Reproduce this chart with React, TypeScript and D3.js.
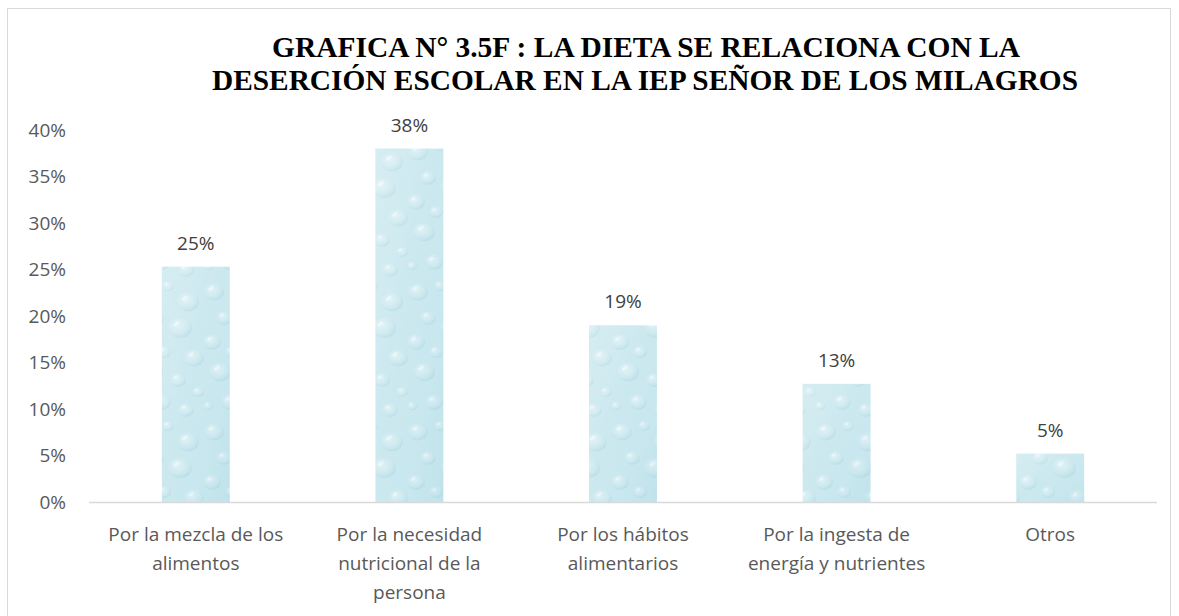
import React from "react";
import * as d3 from "d3";

const categories: string[][] = [
  ["Por la mezcla de los", "alimentos"],
  ["Por la necesidad", "nutricional de la", "persona"],
  ["Por los hábitos", "alimentarios"],
  ["Por la ingesta de", "energía y nutrientes"],
  ["Otros"],
];
const values: number[] = [0.253, 0.38, 0.19, 0.127, 0.052];
const yTicks: number[] = [0, 0.05, 0.1, 0.15, 0.2, 0.25, 0.3, 0.35, 0.4];
const titleLines: string[] = [
  "GRAFICA N° 3.5F : LA DIETA SE RELACIONA CON LA",
  "DESERCIÓN ESCOLAR EN LA IEP SEÑOR DE LOS MILAGROS",
];

const W = 1179;
const H = 616;
const FONT = "'Open Sans', Lato, sans-serif";

export default function App() {
  const x = d3
    .scaleBand<number>()
    .domain(d3.range(values.length))
    .range([89, 1157])
    .paddingInner(0.682)
    .paddingOuter(0.341);
  const y = d3.scaleLinear().domain([0, 0.4]).range([502, 130]);
  const pct = d3.format(".0%");

  const drops = [
    [10, 12, 10], [32, 6, 6], [52, 22, 11], [20, 38, 8], [44, 48, 12],
    [8, 62, 9], [28, 72, 7], [58, 78, 10], [16, 92, 11], [42, 100, 8],
    [62, 112, 6], [26, 122, 9], [4, 126, 5], [50, 130, 8],
  ];

  return (
    <svg
      width={W}
      height={H}
      style={{ position: "absolute", left: 0, top: 0, background: "#fff" }}
    >
      <defs>
        <linearGradient id="shade" x1="0" y1="0" x2="1" y2="1">
          <stop offset="0" stopColor="#ffffff" stopOpacity={0.25} />
          <stop offset="0.5" stopColor="#ffffff" stopOpacity={0.05} />
          <stop offset="1" stopColor="#7fc0cf" stopOpacity={0.12} />
        </linearGradient>
        <radialGradient id="drop" cx="0.4" cy="0.35" r="0.7">
          <stop offset="0" stopColor="#e4f4f7" />
          <stop offset="0.65" stopColor="#c9e7ee" />
          <stop offset="1" stopColor="#aed7e1" />
        </radialGradient>
        <pattern id="water" x={0} y={0} width="68" height="140" patternUnits="userSpaceOnUse">
          <rect width="68" height="140" fill="#c8e7ee" />
          {drops.map((d, i) => (
            <g key={i}>
              <ellipse cx={d[0]} cy={d[1]} rx={d[2]} ry={d[2] * 0.85} fill="url(#drop)" opacity={0.75} />
              <ellipse
                cx={d[0] - d[2] * 0.3}
                cy={d[1] - d[2] * 0.35}
                rx={d[2] * 0.3}
                ry={d[2] * 0.14}
                fill="#f2fafc"
                opacity={0.7}
                transform={`rotate(-35 ${d[0] - d[2] * 0.3} ${d[1] - d[2] * 0.35})`}
              />
            </g>
          ))}
        </pattern>
      </defs>

      <rect x={7.5} y={8.5} width={1163} height={620} fill="#fff" stroke="#d9d9d9" strokeWidth={1} />

      {titleLines.map((t, i) => (
        <text
          key={i}
          x={i === 0 ? 646 : 645}
          y={i === 0 ? 57 : 90}
          textAnchor="middle"
          fontFamily="'Liberation Serif', 'Times New Roman', serif"
          fontWeight="bold"
          fontSize={29}
          textLength={i === 0 ? 748 : 866}
          lengthAdjust="spacingAndGlyphs"
          fill="#000"
        >
          {t}
        </text>
      ))}

      {yTicks.map((t) => (
        <text
          key={t}
          x={66}
          y={y(t)}
          dy="0.36em"
          textAnchor="end"
          fontFamily={FONT}
          fontSize={19}
          fill="#595959"
        >
          {pct(t)}
        </text>
      ))}

      {values.map((v, i) => (
        <g key={i}>
          <rect
            x={x(i)!}
            y={y(v)}
            width={x.bandwidth()}
            height={y(0) - y(v)}
            fill="url(#water)"
          />
          <rect
            x={x(i)!}
            y={y(v)}
            width={x.bandwidth()}
            height={y(0) - y(v)}
            fill="url(#shade)"
          />
        </g>
      ))}

      <line x1={89} x2={1157} y1={y(0) + 0.5} y2={y(0) + 0.5} stroke="#d9d9d9" strokeWidth={1.5} />

      {values.map((v, i) => (
        <text
          key={i}
          x={x(i)! + x.bandwidth() / 2}
          y={y(v) - 17}
          textAnchor="middle"
          fontFamily={FONT}
          fontSize={19}
          fill="#404040"
        >
          {pct(v)}
        </text>
      ))}

      {categories.map((lines, i) => (
        <text
          key={i}
          x={x(i)! + x.bandwidth() / 2}
          textAnchor="middle"
          fontFamily={FONT}
          fontSize={19}
          fill="#595959"
        >
          {lines.map((l, j) => (
            <tspan key={j} x={x(i)! + x.bandwidth() / 2} y={541 + j * 29}>
              {l}
            </tspan>
          ))}
        </text>
      ))}
    </svg>
  );
}
